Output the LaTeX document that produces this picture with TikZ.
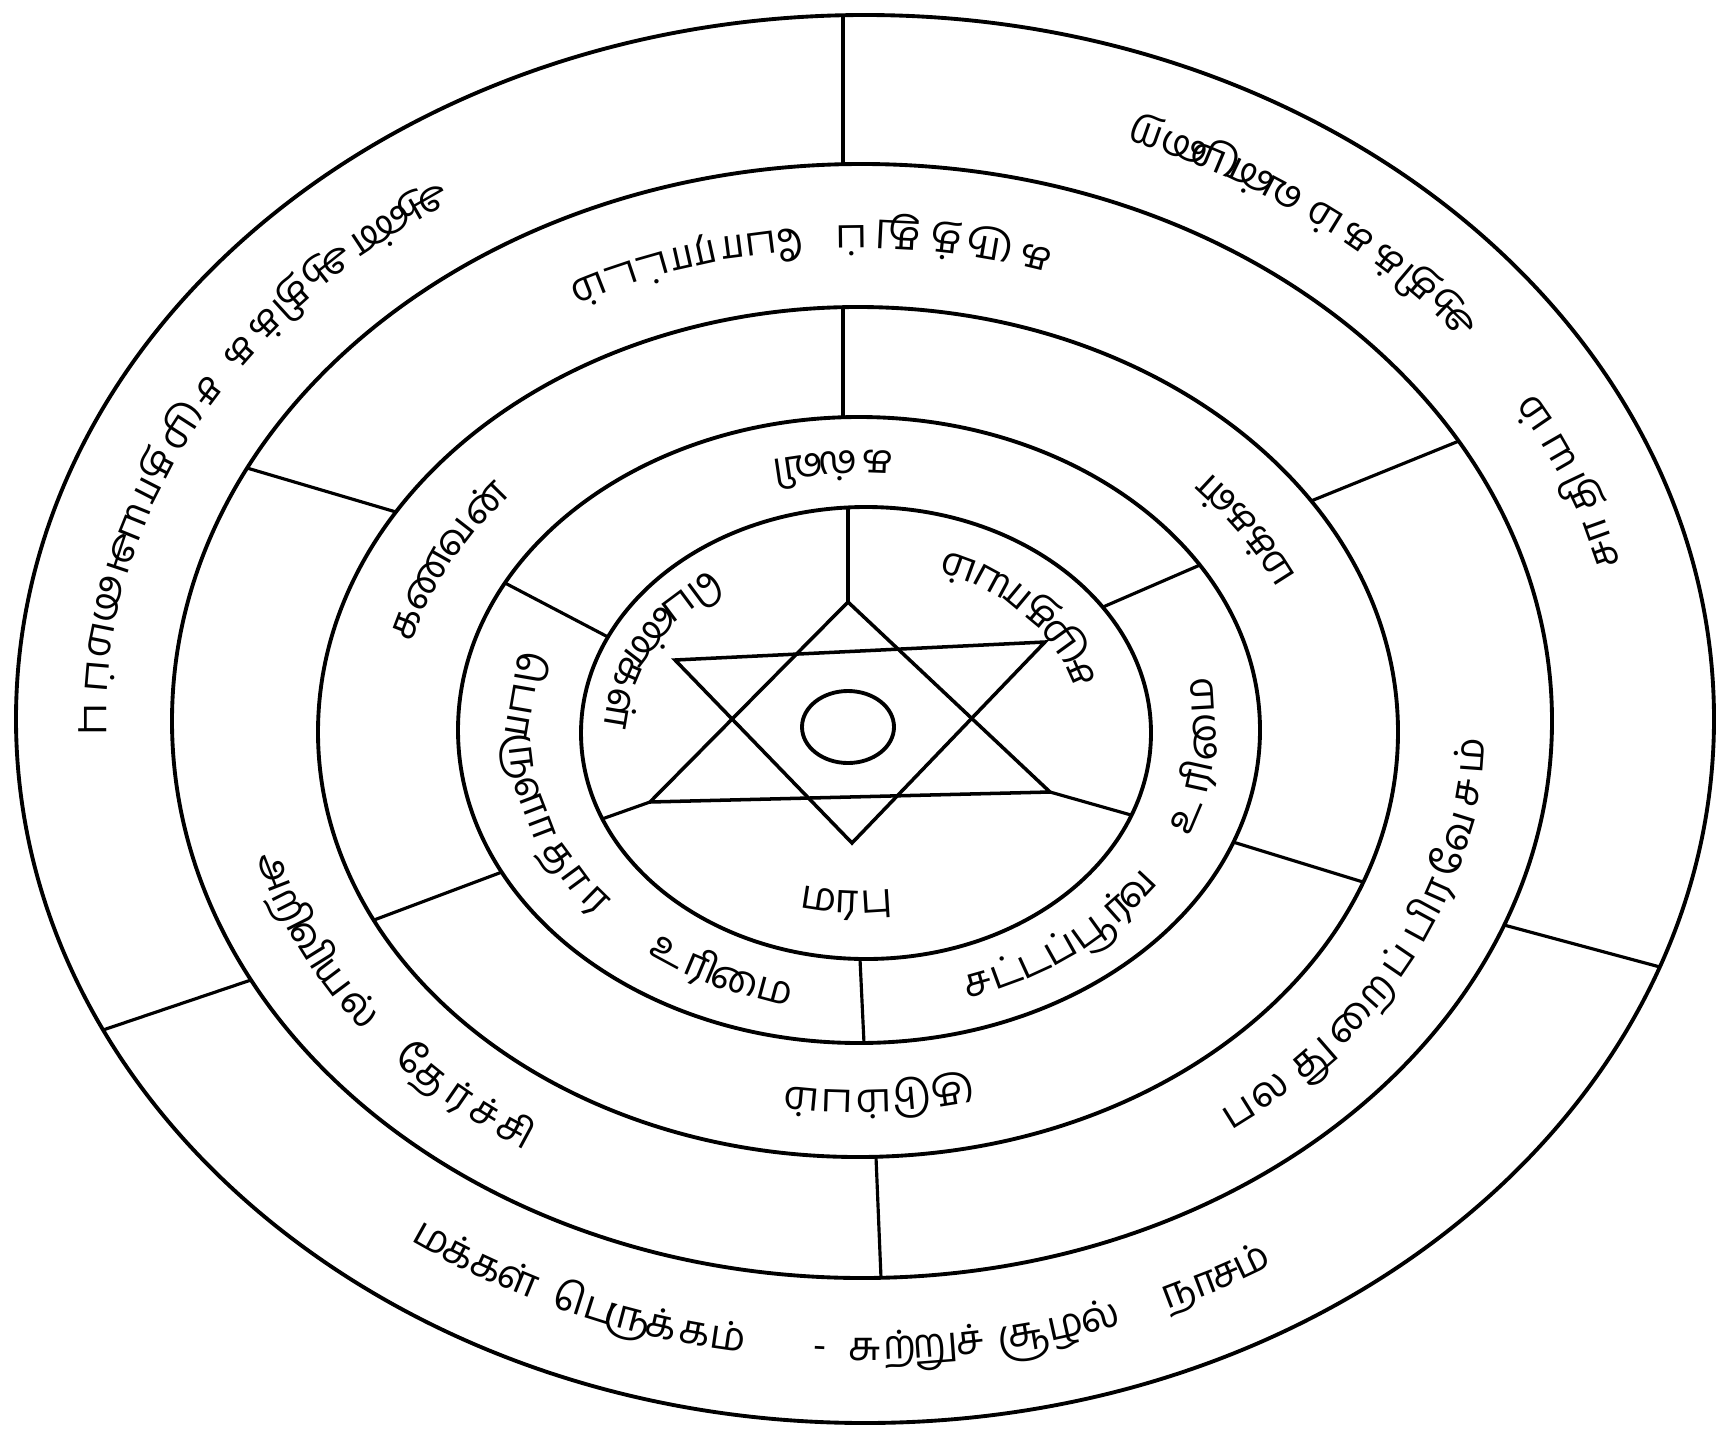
\documentclass[tikz,border=0pt]{standalone}
\usepackage{fontspec}
\newfontfamily\tamil[Script=Tamil]{Hind Madurai}
\usetikzlibrary{calc}

\tikzset{
  ring/.style={line width=2.2pt},
  divider/.style={line width=1.8pt},
  starline/.style={line width=2pt, line join=miter},
  lbl/.style={font=\tamil\fontsize{23}{27}\selectfont, inner sep=0pt, anchor=base},
}

% letters set one by one along a ring:
% name, centre, x radius, y radius, middle angle, direction, extra turn, slot (px), offset/letter list
\newcommand\arctext[9]{%
  \pgfmathsetmacro\arcspd{100*sqrt(((#3)/100*sin(#5))^2+((#4)/100*cos(#5))^2)}%
  \foreach \sylat/\syl [count=\k] in {#9} {%
    \pgfmathsetmacro\arcmid{#5+(#6)*(\sylat)*(#8)/\arcspd*57.29578}%
    \pgfmathsetmacro\arcrot{atan2((#4)*cos(\arcmid), -(#3)*sin(\arcmid))+#7}%
    \node[lbl, rotate=\arcrot] (#1-\k)
      at ($(#2)+({(#3)*cos(\arcmid)+10*sin(\arcrot)},{(#4)*sin(\arcmid)-10*cos(\arcrot)})$) {\syl};%
  }%
}

\begin{document}
\begin{tikzpicture}[x=0.02cm, y=0.02cm]
  \useasboundingbox (0,0) rectangle (1727,-1430);

  % rings
  \coordinate (c0) at (865,-719);
  \coordinate (c1) at (862,-721);
  \coordinate (c2) at (858,-732);
  \coordinate (c3) at (859,-730);
  \coordinate (c4) at (866,-733);
  \coordinate (c5) at (848,-727);
  \draw[ring] (c0) ellipse [x radius=849, y radius=704];
  \draw[ring] (c1) ellipse [x radius=690, y radius=557];
  \draw[ring] (c2) ellipse [x radius=540, y radius=425];
  \draw[ring] (c3) ellipse [x radius=401, y radius=313];
  \draw[ring] (c4) ellipse [x radius=285, y radius=226];
  \draw[ring] (c5) ellipse [x radius=46, y radius=36];

  % star
  \coordinate (up-top) at (848,-602);
  \coordinate (up-left) at (650,-802);
  \coordinate (up-right) at (1050,-792);
  \coordinate (dn-left) at (675,-660);
  \coordinate (dn-right) at (1045,-642);
  \coordinate (dn-bot) at (852,-843);
  \draw[starline] (up-top) -- (up-left) -- (up-right) -- cycle;
  \draw[starline] (dn-left) -- (dn-right) -- (dn-bot) -- cycle;

  % dividers
  \draw[divider] (848,-507) -- (up-top);
  \draw[divider] (602,-819) -- (up-left);
  \draw[divider] (1131,-815) -- (up-right);
  \draw[divider] (505,-583) -- (608,-637);
  \draw[divider] (1103,-607) -- (1200,-565);
  \draw[divider] (860,-959) -- (864,-1043);
  \draw[divider] (843,-307) -- (843,-417);
  \draw[divider] (374,-920) -- (502,-872);
  \draw[divider] (1233,-842) -- (1363,-882);
  \draw[divider] (247,-468) -- (396,-512);
  \draw[divider] (1311,-501) -- (1459,-441);
  \draw[divider] (876,-1157) -- (881,-1278);
  \draw[divider] (843,-15) -- (843,-164);
  \draw[divider] (103,-1030) -- (251,-980);
  \draw[divider] (1504,-925) -- (1660,-967);

  % text rings
  \coordinate (t0) at (864,-720);
  \coordinate (t1) at (860,-727);
  \coordinate (t2) at (858,-731);
  \coordinate (t3) at (862,-731);
  \coordinate (t4) at (860,-733);

  % innermost
  \arctext{in-bot}{t4}{215}{170}{267}{1}{0}{34}{-0.88/ம,-0.05/ர,0.83/பு}
  \arctext{in-left}{t4}{245}{190}{152}{1}{0}{36}{-1.8/பெ,-0.27/ண்,0.95/க,2.03/ள்}
  \arctext{in-right}{t4}{235}{185}{42.6}{1}{0}{35}{-2.42/ச,-1.35/மு,0.08/தா,1.35/ய,2.35/ம்}

  % rights
  \arctext{r-top}{t3}{343}{270}{94}{1}{0}{40}{-1/க,0/ல்,1/வி}
  \arctext{r-left1}{t3}{343}{270}{192.3}{1}{0}{38}{-2.52/பொ,-0.87/ரு,0.55/ளா,2.23/தா,3.33/ர}
  \arctext{r-left2}{t3}{343}{270}{244.8}{1}{0}{42}{-1.28/உ,-0.4/ரி,0.88/மை}
  \arctext{r-right1}{t3}{343}{270}{306.9}{1}{0}{34}{-2.8/ச,-1.95/ட்,-1.1/ட,-0.23/ப்,0.9/பூ,1.9/ர்,2.73/வ}
  \arctext{r-right2}{t3}{343}{270}{354}{1}{0}{46}{-1.28/உ,-0.4/ரி,0.88/மை}

  % family
  \arctext{f-left}{t2}{470}{369}{152.5}{-1}{180}{41}{-1.8/க,-0.57/ண,0.65/வ,1.73/ன்}
  \arctext{f-right}{t2}{470}{369}{33.5}{1}{0}{31}{-1.58/ம,-0.58/க்,0.42/க,1.5/ள்}
  \arctext{f-bot}{t2}{470}{369}{272.6}{-1}{180}{38}{-1.95/கு,-0.85/டு,0.15/ம்,1.1/ப,2.05/ம்}

  % third ring
  \arctext{s-top1}{t1}{615}{491}{82}{1}{0}{46}{-2/க,-0.97/ரு,0/த்,1.03/து,2.05/ப்}
  \arctext{s-top2}{t1}{615}{491}{106.5}{1}{0}{39}{-2/போ,-0.23/ரா,0.85/ட்,1.7/ட,2.63/ம்}
  \arctext{s-left1}{t1}{615}{491}{206.1}{1}{0}{40}{-2/அ,-0.93/றி,0.07/வி,1.07/ய,2.07/ல்}
  \arctext{s-left2}{t1}{615}{491}{229.4}{1}{0}{41}{-1.2/தே,-0.07/ர்,0.68/ச்,1.55/சி}
  \arctext{s-right1}{t1}{615}{491}{310.1}{1}{0}{40}{-0.5/ப,0.45/ல}
  \arctext{s-right2}{t1}{615}{491}{324.1}{1}{0}{48}{-1.3/து,0.13/றை,1.43/ப்}
  \arctext{s-right3}{t1}{615}{491}{346.7}{1}{0}{42}{-2.1/பி,-1.3/ர,-0.13/வே,1.15/ச,2.07/ம்}

  % outer ring
  \arctext{o-left1}{t0}{770}{630}{126.8}{1}{0}{33}{-0.72/ஆ,0.78/ண்}
  \arctext{o-left2}{t0}{770}{630}{138.7}{1}{0}{38}{-1.47/ஆ,-0.22/தி,0.75/க்,1.75/க}
  \arctext{o-left3}{t0}{770}{630}{155.2}{1}{0}{40}{-1.92/ச,-0.85/மு,0.58/தா,1.85/ய}
  \arctext{o-left4}{t0}{770}{630}{172.3}{1}{0}{44}{-1.9/அ,-0.43/மை,0.93/ப்,1.93/பு}
  \arctext{o-right1}{t0}{770}{630}{22.3}{1}{0}{46}{-1.48/சா,-0.25/தி,0.72/ய,1.72/ம்}
  \arctext{o-right2}{t0}{770}{630}{46.2}{1}{0}{38}{-1.97/ஆ,-0.72/தி,0.25/க்,1.25/க,2.25/ம்}
  \arctext{o-right3}{t0}{770}{630}{62.3}{1}{0}{33}{-2.08/வ,-1/ன்,0.22/மு,1.72/றை}
  \arctext{o-bot1}{t0}{770}{630}{239.6}{1}{0}{31}{-1.58/ம,-0.58/க்,0.42/க,1.5/ள்}
  \arctext{o-bot2}{t0}{770}{630}{253.9}{1}{0}{34}{-2.03/பெ,-0.7/ரு,0.32/க்,1.32/க,2.32/ம்}
  \arctext{o-bot3}{t0}{770}{630}{266.7}{1}{0}{34}{0/-}
  \arctext{o-bot4}{t0}{770}{630}{273.8}{1}{0}{34}{-1.47/சு,-0.45/ற்,0.6/று,1.63/ச்}
  \arctext{o-bot5}{t0}{770}{630}{284.7}{1}{0}{36}{-1/சூ,0.18/ழ,1.18/ல்}
  \arctext{o-bot6}{t0}{770}{630}{297.3}{1}{0}{31}{-0.92/நா,0.33/ச,1.25/ம்}
\end{tikzpicture}
\end{document}
